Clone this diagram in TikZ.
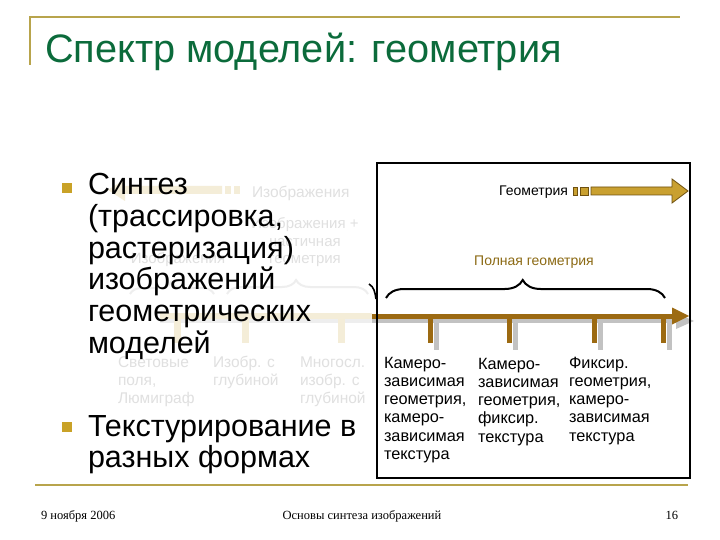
\documentclass[tikz,border=0pt]{standalone}
\usepackage{fontspec}
\setmainfont{Liberation Sans}
\newfontfamily\footfont{Liberation Serif}
\usetikzlibrary{decorations.pathreplacing}
\definecolor{titlegreen}{HTML}{0B6B3B}
\definecolor{linegold}{HTML}{B8A44C}
\definecolor{bulletgold}{HTML}{C9A227}
\definecolor{axisbrown}{HTML}{9C6A12}
\definecolor{shadowgray}{HTML}{C2C2C2}
\definecolor{arrowgold}{HTML}{C9A030}
\definecolor{arrowedge}{HTML}{6E5010}
\definecolor{labelgold}{HTML}{8C6A14}
\definecolor{fainttext}{HTML}{E0E0E0}
\definecolor{faintgold}{HTML}{F4EDD8}
\definecolor{faintgray}{HTML}{EEEEEE}
\begin{document}
\begin{tikzpicture}[x=1pt,y=-1pt,
  every node/.style={inner sep=0pt, outer sep=0pt},
  bodyline/.style={anchor=base west, font=\fontsize{30.5}{33}\selectfont},
  boxline/.style={anchor=base west, font=\fontsize{16.3}{18}\selectfont},
  faintline/.style={anchor=base west, font=\fontsize{15.5}{17}\selectfont, text=fainttext},
  faintmid/.style={anchor=base, font=\fontsize{15}{17}\selectfont, text=fainttext},
  footline/.style={anchor=base, font=\footfont\fontsize{12.5}{14}\selectfont},
  goldrule/.style={draw=linegold, line width=2.5pt},
  tickbrown/.style={draw=axisbrown, line width=5pt},
  tickgray/.style={draw=shadowgray, line width=5pt},
  tickfaint/.style={draw=faintgold, line width=7pt},
  bracedeco/.style={decorate, decoration={brace, amplitude=#1, aspect=0.49}}
]
\useasboundingbox (0,0) rectangle (720,540);
\fill[white] (0,0) rectangle (720,540);

% rules
\draw[goldrule] (30,65) -- (30,17) -- (680,17);
\draw[goldrule] (35,485) -- (688,485);

% title
\node[anchor=base west, text=titlegreen, font=\fontsize{39.7}{46}\selectfont] (title) at (45,63) {Спектр моделей: геометрия};

% ---------- faint background diagram ----------
\fill[faintgold] (222,186) -- (125,186) -- (125,179) -- (108,190) -- (125,201) -- (125,194) -- (222,194) -- cycle;
\fill[faintgold] (225,186) rectangle (231,194);
\fill[faintgold] (234,186) rectangle (240,194);
\node[faintline] (fimg1) at (252,197) {Изображения};
\node[faintmid] (fpart1) at (305,229) {Изображения +};
\node[faintmid] (fpart2) at (305,246) {частичная};
\node[faintmid] (fpart3) at (305,263) {геометрия};
\node[faintmid] (fimg2) at (178,263) {Изображения};
\draw[faintgray, line width=2pt, bracedeco=12pt] (130,294) -- (214,294);
\draw[faintgray, line width=2pt, bracedeco=14pt] (227,294) -- (368,294);
\draw[faintgray, line width=4pt] (160,321) -- (372,321);
\draw[faintgold, line width=6pt] (160,316) -- (372,316);
\foreach \x in {177,245,341} \draw[tickfaint] (\x,314) -- (\x,343);
\foreach \t [count=\i] in {Световые, {поля,}, Люмиграф}
  \node[faintline, name=fa-\i] at (118,367+18*\i-18) {\t};
\foreach \t [count=\i] in {Изобр. с, глубиной}
  \node[faintline, name=fb-\i] at (213,367+18*\i-18) {\t};
\foreach \t [count=\i] in {Многосл., изобр. с, глубиной}
  \node[faintline, name=fc-\i] at (300,367+18*\i-18) {\t};

% ---------- bullets ----------
\fill[bulletgold] (62,183) rectangle (72,193);
\foreach \t [count=\i] in {Синтез, {(трассировка,}, растеризация), изображений, геометрических, моделей}
  \node[bodyline, name=b1-\i] at (88,195+31.6*\i-31.6) {\t};
\fill[bulletgold] (62,422) rectangle (72,432);
\foreach \t [count=\i] in {Текстурирование в, разных формах}
  \node[bodyline, name=b2-\i] at (88,436+31.6*\i-31.6) {\t};

% ---------- right box content ----------
\node[anchor=base east, font=\fontsize{14}{16}\selectfont] (geom) at (568,196) {Геометрия};
\filldraw[fill=arrowgold, draw=arrowedge, line width=0.8pt] (573,187.5) rectangle (577,195);
\filldraw[fill=arrowgold, draw=arrowedge, line width=0.8pt] (580,187.5) rectangle (588,195);
\filldraw[fill=arrowgold, draw=arrowedge, line width=0.8pt]
  (591,187) -- (672,187) -- (672,179) -- (688,191) -- (672,203) -- (672,195) -- (591,195) -- cycle;

\node[anchor=base, text=labelgold, font=\fontsize{14}{16}\selectfont] (full) at (534,265) {Полная геометрия};
\draw[line width=2pt, bracedeco=18pt] (386,298) -- (665,298);
\draw[line width=1.6pt] (369,284) .. controls (374,287) and (375,292) .. (376,299);

% axis with shadow
\draw[shadowgray, line width=4pt] (372,321) -- (679,321);
\fill[shadowgray] (676,313) -- (694,321) -- (676,329) -- cycle;
\foreach \x in {436,515,600,669} \draw[tickgray] (\x,320) -- (\x,350);
\draw[axisbrown, line width=5pt] (372,316) -- (674,316);
\fill[axisbrown] (672,307.5) -- (689,316) -- (672,324.5) -- cycle;
\foreach \x in {430,509,594,663} \draw[tickbrown] (\x,316) -- (\x,343);

% column labels
\foreach \t [count=\i] in {Камеро-, зависимая, {геометрия,}, камеро-, зависимая, текстура}
  \node[boxline, name=c1-\i] at (384,368+18.3*\i-18.3) {\t};
\foreach \t [count=\i] in {Камеро-, зависимая, {геометрия,}, фиксир., текстура}
  \node[boxline, name=c2-\i] at (478,369+18.3*\i-18.3) {\t};
\foreach \t [count=\i] in {Фиксир., {геометрия,}, камеро-, зависимая, текстура}
  \node[boxline, name=c3-\i] at (569,368+18.3*\i-18.3) {\t};

% frame
\draw[line width=2pt] (377,163) rectangle (690,478);

% footer
\node[footline, anchor=base west] (date) at (41,519) {9 ноября 2006};
\node[footline] (course) at (362,519) {Основы синтеза изображений};
\node[footline, anchor=base east] (page) at (678,519) {16};
\end{tikzpicture}
\end{document}
